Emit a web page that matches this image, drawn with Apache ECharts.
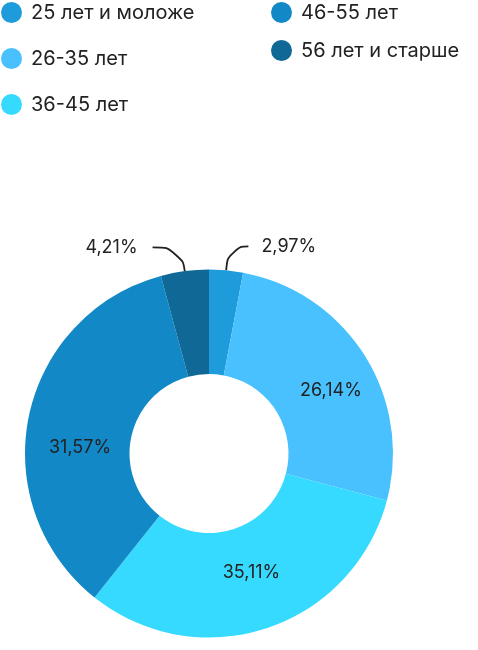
<!DOCTYPE html>
<html>
<head>
<meta charset="utf-8">
<script src="https://cdn.jsdelivr.net/npm/echarts@6/dist/echarts.min.js"></script>
<style>
  html, body { margin: 0; padding: 0; background: #fff; }
  #chart { width: 478px; height: 650px; }
</style>
</head>
<body>
<div id="chart"></div>
<script>
// возрастные группы, размеры секторов и подписи (как на исходной картинке)
const ageGroups = ['25 лет и моложе', '26-35 лет', '36-45 лет', '46-55 лет', '56 лет и старше']
const sliceValues = [2.97, 26.14, 31.57, 35.11, 4.21]
const labelTexts = ['2,97%', '26,14%', '35,11%', '31,57%', '4,21%']
const colors = ['#1E9BDB', '#48C1FE', '#37DAFF', '#1388C7', '#0F6896']

// подписи внутри кольца сдвинуты относительно середины сектора
const labelNudge = [[0, 0], [8, 9], [0, -9], [3, 21], [0, 0]]

const FONT = 'Inter, "Open Sans", sans-serif'
const TEXT = '#222222'

const chart = echarts.init(document.getElementById('chart'))

const legendBase = {
  orient: 'vertical',
  icon: 'circle',
  padding: 0,
  itemWidth: 21,
  itemHeight: 21,
  selectedMode: false,
  textStyle: { fontFamily: FONT, fontSize: 20, color: TEXT, lineHeight: 21, padding: [0, 0, 0, 4] }
}

chart.setOption({
  animation: false,
  color: colors,
  legend: [
    Object.assign({}, legendBase, { left: 1, top: 2, itemGap: 25, data: ageGroups.slice(0, 3) }),
    Object.assign({}, legendBase, { left: 271, top: 2, itemGap: 17, data: ageGroups.slice(3) })
  ],
  series: [{
    type: 'pie',
    center: [209, 453.5],
    radius: [79.5, 184],
    startAngle: 90,
    clockwise: true,
    avoidLabelOverlap: false,
    label: {
      position: 'inside',
      fontFamily: FONT,
      fontSize: 18,
      color: TEXT,
      formatter: p => labelTexts[p.dataIndex]
    },
    labelLine: {
      show: true,
      smooth: 0.6,
      lineStyle: { color: TEXT, width: 1.8 }
    },
    labelLayout: p => {
      const n = labelNudge[p.dataIndex]
      return { dx: n[0], dy: n[1] }
    },
    data: ageGroups.map((name, i) => {
      const item = { name: name, value: sliceValues[i] }
      // маленькие секторы подписаны снаружи с выноской
      if (i === 0 || i === ageGroups.length - 1) {
        item.label = { position: 'outside', distanceToLabelLine: i === 0 ? 13 : 15 }
        item.labelLine = { length: 24, length2: i === 0 ? 20 : 29 }
      } else {
        item.labelLine = { show: false }
      }
      return item
    })
  }]
})
</script>
</body>
</html>
